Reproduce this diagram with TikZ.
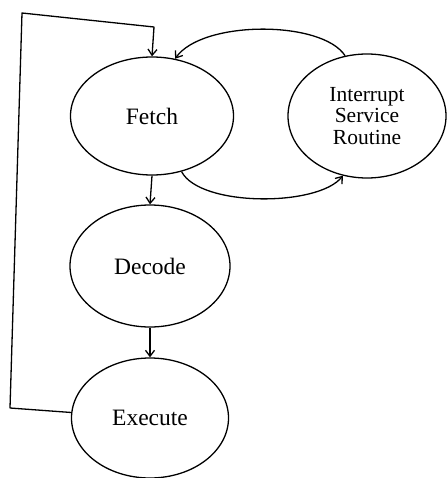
\documentclass[tikz,border=0pt]{standalone}
\usepackage{fontspec}
\setmainfont{Liberation Serif}
\usetikzlibrary{shapes.geometric,arrows.meta}
\begin{document}
\begin{tikzpicture}[x=1pt,y=-1pt,
  state/.style={ellipse,draw,line width=1.3pt,inner sep=0pt,
    font=\fontsize{23.5}{24}\selectfont,align=center},
  flow/.style={line width=1.3pt,-{Straight Barb[length=6pt,width=9pt]}},
  line join=round]
\useasboundingbox (0,0) rectangle (447,478);
% states of the instruction cycle
\node[state,minimum width=163pt,minimum height=118pt] (fetch) at (152,116) {Fetch};
\node[state,minimum width=158pt,minimum height=124pt,
  font=\fontsize{21.5}{21.5}\selectfont] (isr) at (367,116) {Interrupt\\Service\\Routine};
\node[state,minimum width=160pt,minimum height=122pt] (decode) at (150,266) {Decode};
\node[state,minimum width=157pt,minimum height=120pt] (execute) at (150,418) {Execute};
% return path from Execute back to Fetch
\coordinate (c1) at (10,408);
\coordinate (c2) at (22,13);
\coordinate (c3) at (154,27);
\draw[flow] (execute.176) -- (c1) -- (c2) -- (c3) -- (fetch.north);
% straight flow
\draw[flow] (fetch.south) -- (decode.north);
\draw[flow] (decode.south) -- (execute.north);
% interrupt handling
\draw[flow] (fetch.-62) .. controls (200,207) and (318,207) .. (isr.248);
\draw[flow] (isr.110) .. controls (322,20) and (202,20) .. (fetch.68);
\end{tikzpicture}
\end{document}
